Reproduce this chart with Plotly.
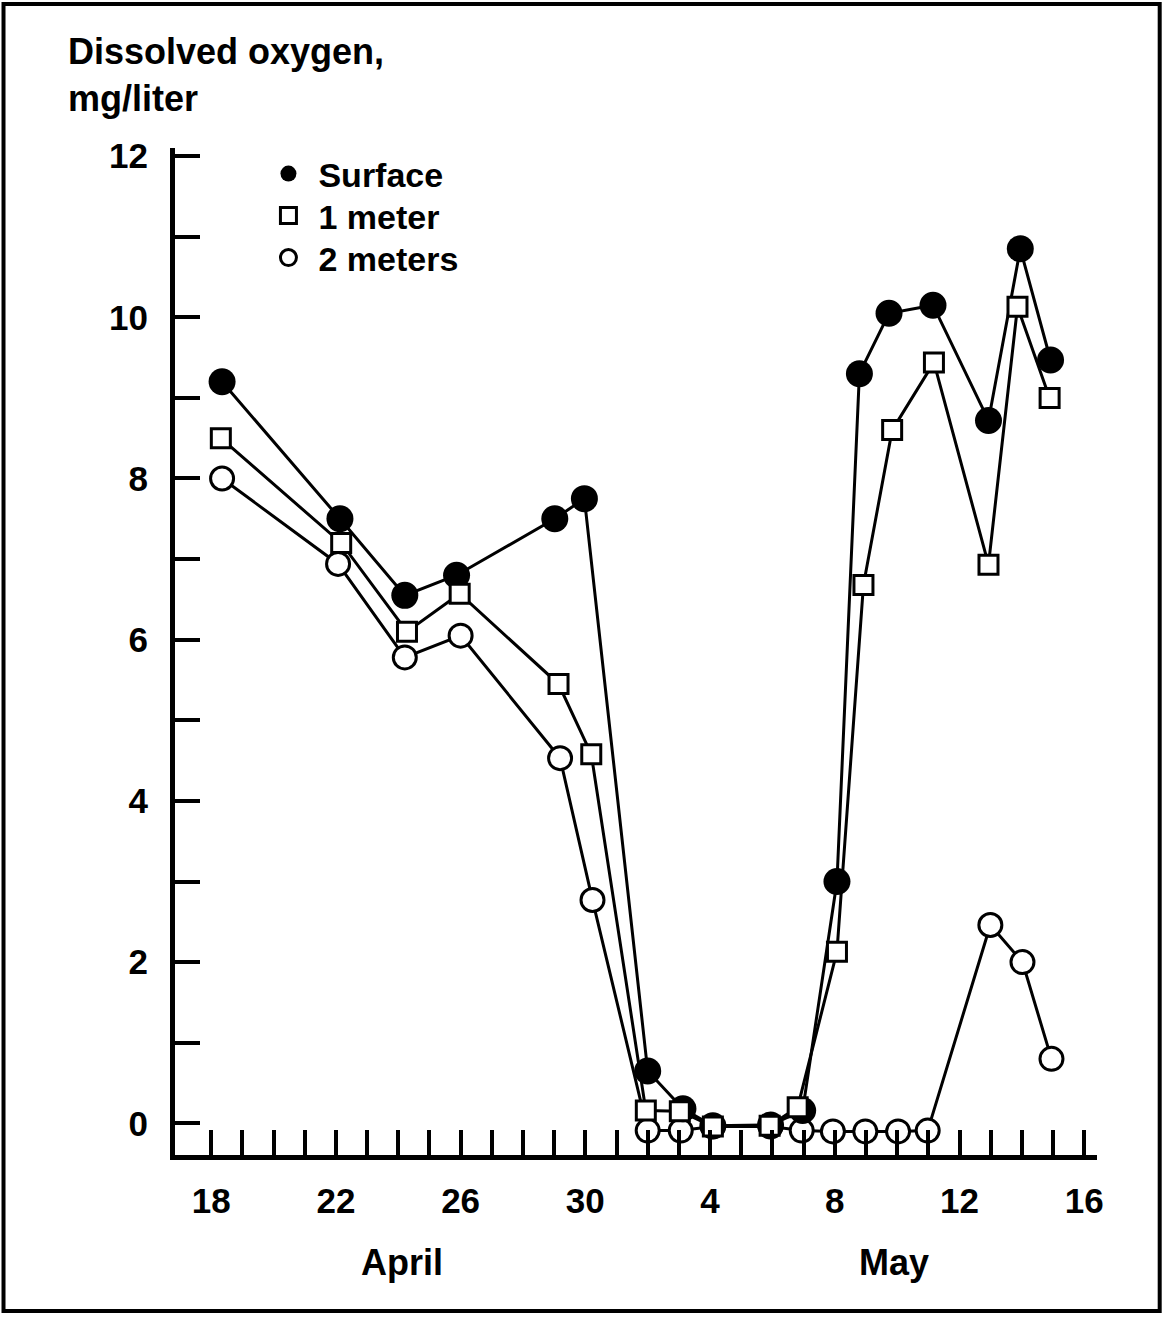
import plotly.graph_objects as go

# x values: April days as-is, May days expressed as 30 + day of May
tick_vals = [18, 22, 26, 30, 34, 38, 42, 46]
tick_text = ["18", "22", "26", "30", "4", "8", "12", "16"]
minor_x = list(range(18, 47))

surface_day = [18.35, 22.13, 24.21, 25.87, 29.02, 29.97, 32.0, 33.13, 34.09, 35.94,
               36.97, 38.07, 38.79, 39.74, 41.15, 42.93, 43.95, 44.92]
surface_do = [9.2, 7.5, 6.55, 6.8, 7.5, 7.75, 0.65, 0.18, -0.03, -0.02,
              0.16, 3.0, 9.3, 10.05, 10.15, 8.72, 10.85, 9.47]

m1_day = [18.31, 22.17, 24.28, 25.97, 29.14, 30.19, 31.94, 33.03, 34.09, 35.91,
          36.81, 38.07, 38.92, 39.84, 41.18, 42.93, 43.86, 44.89]
m1_do = [8.5, 7.2, 6.1, 6.57, 5.45, 4.58, 0.16, 0.15, -0.04, -0.03,
         0.2, 2.13, 6.68, 8.6, 9.44, 6.93, 10.13, 9.0]

m2_day = [18.35, 22.07, 24.21, 26.0, 29.19, 30.23, 32.0, 33.06, 34.09, 35.94,
          36.94, 37.94, 38.98, 40.03, 40.98, 42.99, 44.02, 44.95]
m2_do = [8.0, 6.94, 5.78, 6.05, 4.53, 2.77, -0.09, -0.09, -0.04, -0.04,
         -0.09, -0.1, -0.1, -0.1, -0.09, 2.46, 2.0, 0.8]

series_names = ["Surface", "1 meter", "2 meters"]

FONT = "Liberation Sans"
fig = go.Figure()

line = dict(color="black", width=3)
mk_surface = dict(symbol="circle", size=27, color="black", line=dict(width=0))
mk_m1 = dict(symbol="square", size=19, color="white", line=dict(color="black", width=3))
mk_m2 = dict(symbol="circle", size=23, color="white", line=dict(color="black", width=3))

fig.add_trace(go.Scatter(x=m2_day, y=m2_do, mode="lines+markers", line=line,
                         marker=mk_m2, showlegend=False, cliponaxis=False))
fig.add_trace(go.Scatter(x=surface_day, y=surface_do, mode="lines+markers", line=line,
                         marker=mk_surface, showlegend=False, cliponaxis=False))
fig.add_trace(go.Scatter(x=m1_day, y=m1_do, mode="lines+markers", line=line,
                         marker=mk_m1, showlegend=False, cliponaxis=False))

# legend-only entries (markers only), one legend box per row
legend_ids = ["legend", "legend2", "legend3"]
for name, mk, lg in zip(series_names, [mk_surface, mk_m1, mk_m2], legend_ids):
    fig.add_trace(go.Scatter(x=[None], y=[None], mode="markers", marker=mk,
                             name=name, showlegend=True, legend=lg))

legend_font = dict(family=FONT, size=34, color="black", weight="bold")
legend_common = dict(x=0.0905, xanchor="left", yanchor="middle",
                     bgcolor="rgba(0,0,0,0)", borderwidth=0,
                     font=legend_font, itemwidth=50)

tick_font = dict(family=FONT, size=35, color="black", weight="bold")

fig.update_layout(
    width=1165, height=1317,
    margin=dict(l=175, r=68, t=148, b=162, pad=0),
    paper_bgcolor="white", plot_bgcolor="white",
    font=dict(family=FONT, color="black", size=33, weight="bold"),
    showlegend=True,
    legend=dict(y=0.9742, **legend_common),
    legend2=dict(y=0.9325, **legend_common),
    legend3=dict(y=0.8908, **legend_common),
    xaxis=dict(range=[16.84, 46.41], showgrid=False, zeroline=False,
               showline=True, linecolor="black", linewidth=5,
               tickmode="array", tickvals=tick_vals, ticktext=tick_text,
               ticks="inside", ticklen=25, tickwidth=4, tickcolor="black",
               ticklabelstandoff=11, tickfont=tick_font,
               minor=dict(tickmode="array", tickvals=minor_x, ticks="inside",
                          ticklen=25, tickwidth=4, tickcolor="black")),
    yaxis=dict(range=[-0.393, 12.10], showgrid=False, zeroline=False,
               showline=True, linecolor="black", linewidth=5,
               tickmode="linear", tick0=0, dtick=2,
               ticks="inside", ticklen=25, tickwidth=4, tickcolor="black",
               ticklabelstandoff=15, tickfont=tick_font,
               minor=dict(tick0=0, dtick=1, ticks="inside",
                          ticklen=25, tickwidth=4, tickcolor="black")),
    annotations=[
        dict(text="Dissolved oxygen,<br>mg/liter", xref="paper", yref="paper",
             x=-0.118, y=1.118, xanchor="left", yanchor="top", align="left",
             showarrow=False,
             font=dict(family=FONT, size=36, color="black", weight="bold")),
        dict(text="April", xref="paper", yref="paper", x=0.246, y=-0.107,
             xanchor="center", yanchor="middle", showarrow=False,
             font=dict(family=FONT, size=36, color="black", weight="bold")),
        dict(text="May", xref="paper", yref="paper", x=0.780, y=-0.107,
             xanchor="center", yanchor="middle", showarrow=False,
             font=dict(family=FONT, size=36, color="black", weight="bold")),
    ],
    shapes=[
        dict(type="rect", xref="paper", yref="paper",
             x0=-0.186, x1=1.068, y0=-0.155, y1=1.143,
             line=dict(color="black", width=4), fillcolor="rgba(0,0,0,0)",
             layer="below"),
    ],
)

fig.write_html("out.html", config={"displayModeBar": False},
               post_script="document.body.style.margin='0';")
